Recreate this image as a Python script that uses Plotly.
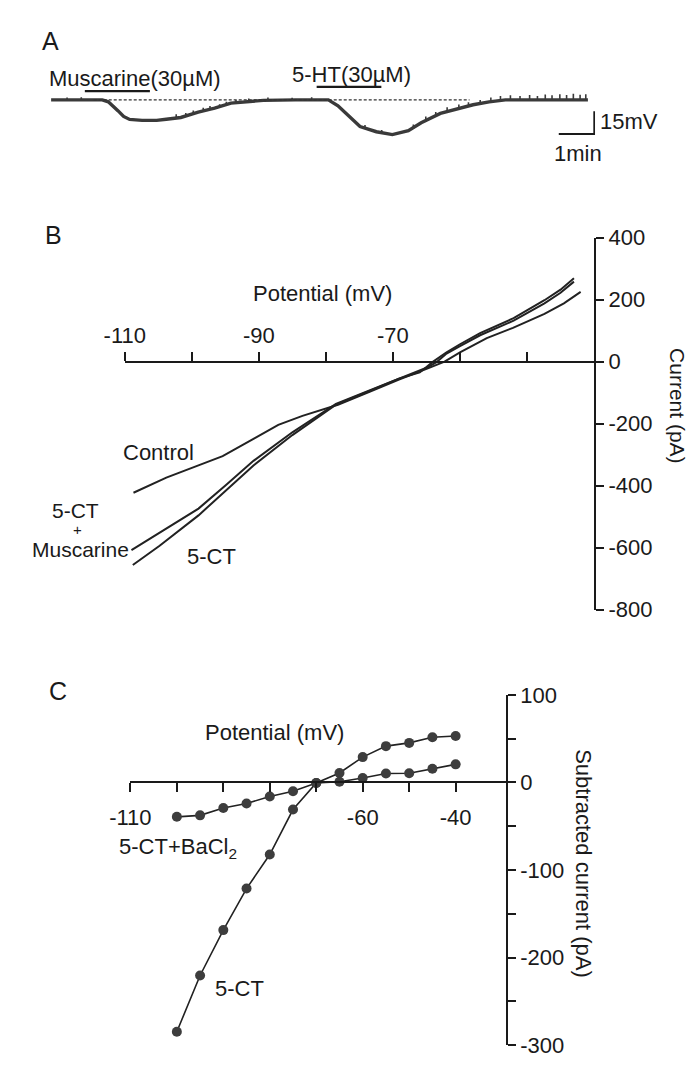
import plotly.graph_objects as go

W, H = 692, 1066
FONT = "Liberation Sans, Arial, Helvetica, sans-serif"
INK = "#1a1a1a"

# ---------------- Panel A : membrane potential trace (t in min, V in mV from rest) ----------------
a_time = [0.0, 0.6, 1.2, 1.44, 1.61, 1.74, 1.88, 2.04, 2.21, 2.56, 2.97, 3.24, 3.65,
          4.14, 4.6, 5.06, 5.5, 5.97, 6.87, 7.8, 8.07, 8.33, 8.69, 9.15, 9.6, 10.05,
          10.41, 10.95, 11.42, 11.87, 12.32, 12.78, 13.6, 14.4, 15.1]
a_vm = [0, 0, 0, 0, -1.3, -3.9, -7.1, -10.9, -12.9, -13.5, -13.5, -12.8, -11.6,
        -8.1, -5.5, -2.1, -1.0, -0.3, 0, 0, -3.9, -9.9, -17.6, -21.0, -22.9, -20.3,
        -15.1, -8.9, -5.9, -3.2, -1.3, 0, 0, 0, 0]
a_spike_t = [0.45, 0.85, 3.52, 3.79, 4.0, 4.28, 4.47, 4.74, 4.93, 5.2, 5.56, 6.1, 6.78, 7.33,
             8.83, 9.3, 10.19, 10.54, 10.82, 11.14, 11.47, 11.74, 12.07, 12.37, 12.64,
             12.92, 13.19, 13.46, 13.68, 13.9, 14.09, 14.31, 14.5, 14.69, 14.88, 15.04]
a_spike_base = [0, 0, -12, -11, -9.5, -7.5, -6.3, -4.9, -3.3, -2, -0.9, -0.2, 0, 0,
                -18.5, -21.8, -18.8, -13.5, -10.5, -7.3, -5.5, -4, -2.7, -1.2, -0.4,
                0, 0, 0, 0, 0, 0, 0, 0, 0, 0, 0]
a_spike_top = [1.5, 1.8, -9.5, -8.7, -7, -5.2, -4, -2.8, -1.3, 0, 1, 1.6, 1.4, 1.8,
               -16.5, -19.8, -16.3, -11, -8, -4.8, -3, -1.5, 0, 1.5, 2.5,
               3, 2.5, 3.2, 2.6, 3.5, 3, 3.8, 3.2, 4, 3.4, 3.8]
a_musc_bar = [0.95, 2.78]
a_musc_level = 5.8
a_5ht_bar = [7.47, 9.29]
a_5ht_level = 8.6
a_dash_span = [1.2, 11.77]
a_scale_t = [14.28, 15.28]    # 1 min
a_scale_v = [-7.5, -22.5]     # 15 mV

# ---------------- Panel B : I-V ramps (mV, pA) ----------------
b_ctrl_v = [-108.7, -103.8, -99.4, -95.4, -90.6, -87.1, -83.5, -78.2, -73.4, -69.1,
            -64.7, -62.3, -60.0, -56.0, -52.1, -47.4, -44.5, -42.0]
b_ctrl_i = [-423, -374, -338, -305, -247, -204, -175, -139, -97, -58,
            -21, 0, 30, 76, 109, 154, 188, 225]
b_ct_v = [-108.8, -104.8, -99.0, -94.9, -90.8, -85.0, -78.5, -73.4, -69.1, -66.0,
          -64.0, -62.0, -60.0, -57.0, -52.0, -47.4, -45.0, -43.0]
b_ct_i = [-656, -594, -496, -416, -335, -237, -139, -94, -55, -35,
          0, 30, 56, 92, 140, 198, 232, 269]
b_ctm_v = [-109.0, -105.2, -99.0, -94.9, -90.8, -85.0, -78.5, -73.4, -69.1, -64.7,
           -63.5, -62.0, -60.0, -57.0, -52.0, -47.4, -45.0, -43.0]
b_ctm_i = [-608, -556, -474, -398, -320, -228, -136, -92, -54, -17,
           -2, 26, 50, 85, 132, 188, 222, 258]
b_xticks = [-110, -90, -70]
b_xticktext = ["-110", "-90", "-70"]
b_xminor = [-100, -80, -60, -50]
b_yticks = [400, 200, 0, -200, -400, -600, -800]
b_yticktext = ["400", "200", "0", "-200", "-400", "-600", "-800"]

# ---------------- Panel C : subtracted current (mV, pA) ----------------
c_v = [-100, -95, -90, -85, -80, -75, -70, -65, -60, -55, -50, -45, -40]
c_5ct = [-284.5, -220.3, -168.5, -121.1, -82.2, -30.9, -0.6, 10.9, 29.0, 41.5, 45.2, 51.6, 53.1]
c_ba = [-39.2, -37.5, -29.1, -24.0, -15.9, -10.0, -0.6, 0.9, 5.2, 10.3, 10.6, 15.6, 20.7]
c_xticks = [-110, -60, -40]
c_xticktext = ["-110", "-60", "-40"]
c_xminor = [-100, -90, -80, -70, -50]
c_yticks = [100, 0, -100, -200, -300]
c_yticktext = ["100", "0", "-100", "-200", "-300"]
c_yminor = [50, -50, -150, -250]


def px(x):
    return x / W


def py(y):
    return 1 - y / H


fig = go.Figure()

# ---- A traces
fig.add_trace(go.Scatter(x=a_time, y=a_vm, mode="lines", xaxis="x", yaxis="y",
                         line=dict(color="#3a3a3a", width=3.4), hoverinfo="skip"))
sx, sy = [], []
for t, b, tp in zip(a_spike_t, a_spike_base, a_spike_top):
    sx += [t, t, None]
    sy += [b, tp, None]
fig.add_trace(go.Scatter(x=sx, y=sy, mode="lines", xaxis="x", yaxis="y",
                         line=dict(color="#3a3a3a", width=1.6), hoverinfo="skip"))
fig.add_trace(go.Scatter(x=a_dash_span, y=[0, 0], mode="lines", xaxis="x", yaxis="y",
                         line=dict(color="#333", width=1.2, dash="3px,2px"), hoverinfo="skip"))
fig.add_trace(go.Scatter(x=a_musc_bar, y=[a_musc_level] * 2, mode="lines", xaxis="x", yaxis="y",
                         line=dict(color=INK, width=2.2), hoverinfo="skip"))
fig.add_trace(go.Scatter(x=a_5ht_bar, y=[a_5ht_level] * 2, mode="lines", xaxis="x", yaxis="y",
                         line=dict(color=INK, width=2.2), hoverinfo="skip"))
fig.add_trace(go.Scatter(x=[a_scale_t[1], a_scale_t[1], a_scale_t[0]],
                         y=[a_scale_v[0], a_scale_v[1], a_scale_v[1]],
                         mode="lines", xaxis="x", yaxis="y",
                         line=dict(color=INK, width=2), hoverinfo="skip"))

# ---- B traces
for xv, yv in [(b_ctrl_v, b_ctrl_i), (b_ctm_v, b_ctm_i), (b_ct_v, b_ct_i)]:
    fig.add_trace(go.Scatter(x=xv, y=yv, mode="lines", xaxis="x2", yaxis="y2",
                             line=dict(color="#222", width=2), hoverinfo="skip"))

# ---- C traces
for yv in [c_ba, c_5ct]:
    fig.add_trace(go.Scatter(x=c_v, y=yv, mode="lines+markers", xaxis="x3", yaxis="y3",
                             line=dict(color="#222", width=1.6),
                             marker=dict(color="#3d3d3d", size=10), hoverinfo="skip"))

hidden = dict(visible=False, showgrid=False, zeroline=False)
tick_common = dict(showline=True, linecolor=INK, linewidth=2, ticks="outside",
                   tickwidth=1.5, tickcolor=INK, showgrid=False, zeroline=False,
                   tickfont=dict(size=22))
fig.update_layout(
    width=W, height=H, margin=dict(l=0, r=0, t=0, b=0),
    paper_bgcolor="white", plot_bgcolor="white", showlegend=False,
    font=dict(family=FONT, size=22, color=INK),
    xaxis=dict(domain=[px(31), px(592)], range=[0, 15.3], **hidden),
    yaxis=dict(domain=[py(150), py(30)], range=[-38.64, 38.64], **hidden),
    xaxis2=dict(domain=[px(107), px(591)], range=[-110, -40], anchor="free",
                position=py(358), side="top", ticklen=9,
                tickmode="array", tickvals=b_xticks, ticktext=b_xticktext,
                minor=dict(tickmode="array", tickvals=b_xminor, ticks="outside",
                           ticklen=9, tickwidth=1.5, tickcolor=INK, showgrid=False),
                **tick_common),
    yaxis2=dict(domain=[py(612), py(231)], range=[-800, 400], anchor="x2", side="right",
                ticklen=8, tickmode="array", tickvals=b_yticks, ticktext=b_yticktext,
                **tick_common),
    xaxis3=dict(domain=[px(112.8), px(500)], range=[-110, -29.2], anchor="free",
                position=py(789), side="bottom", ticklen=9, ticklabelstandoff=6,
                tickmode="array", tickvals=c_xticks, ticktext=c_xticktext,
                minor=dict(tickmode="array", tickvals=c_xminor, ticks="outside",
                           ticklen=9, tickwidth=1.5, tickcolor=INK, showgrid=False),
                **tick_common),
    yaxis3=dict(domain=[py(1058.1), py(699.3)], range=[-300, 100], anchor="x3", side="right",
                ticklen=8, tickmode="array", tickvals=c_yticks, ticktext=c_yticktext,
                minor=dict(tickmode="array", tickvals=c_yminor, ticks="outside",
                           ticklen=8, tickwidth=1.5, tickcolor=INK, showgrid=False),
                **tick_common),
)


def note(text, x, y, size=22, xanchor="center", angle=0):
    fig.add_annotation(text=text, x=px(x), y=py(y), xref="paper", yref="paper",
                       showarrow=False, xanchor=xanchor, yanchor="middle",
                       textangle=angle, font=dict(size=size, family=FONT, color=INK))


# panel letters
note("A", 30, 30, size=25)
note("B", 34, 228, size=25)
note("C", 38, 695, size=25)
# panel A texts
note("Muscarine(30µM)", 118, 68)
note("5-HT(30µM)", 341, 64)
note("15mV", 595, 112, xanchor="left")
note("1min", 574, 145)
# panel B texts
note("Potential (mV)", 311, 288)
note("Current (pA)", 677, 404, size=21, angle=90)
note("Control", 142, 451)
note("5-CT", 56, 510, size=21)
note("+", 58, 530, size=15)
note("Muscarine", 61, 550, size=21)
note("5-CT", 196, 558)
# panel C texts
note("Potential (mV)", 261, 738)
note("Subtracted current (pA)", 580, 872, angle=90)
note("5-CT+BaCl<sub>2</sub>", 162, 856)
note("5-CT", 225, 1000)

fig.write_html("out.html")
